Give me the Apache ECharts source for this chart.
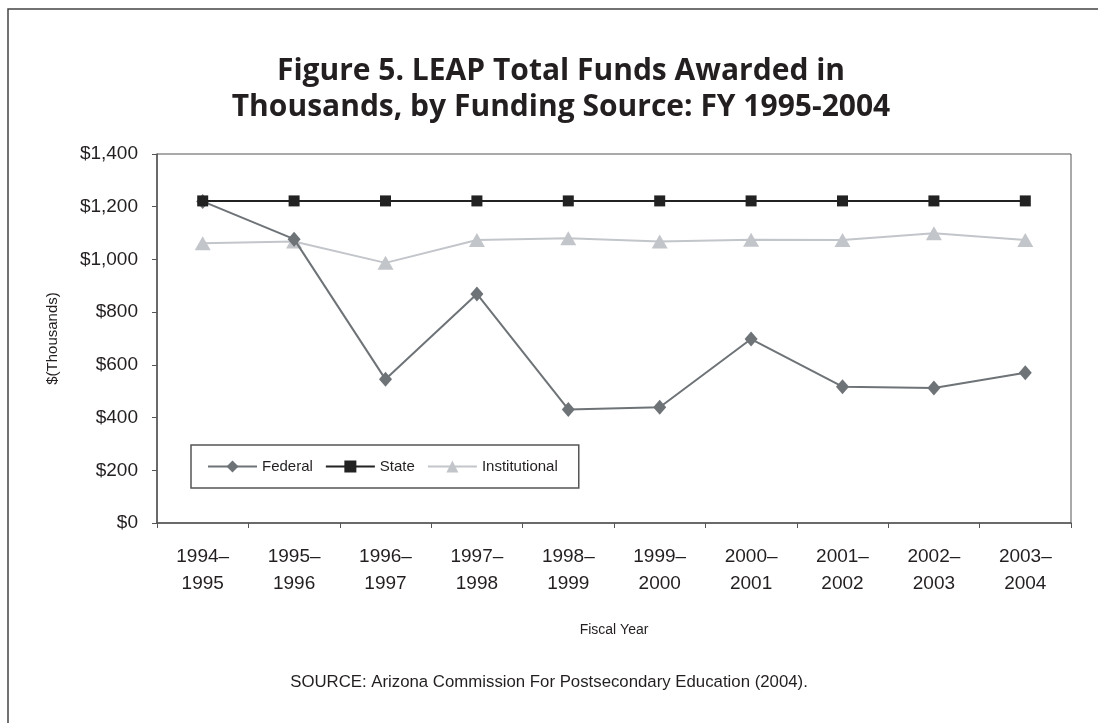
<!DOCTYPE html>
<html>
<head>
<meta charset="utf-8">
<title>LEAP Total Funds Awarded</title>
<script src="https://cdn.jsdelivr.net/npm/echarts@6/dist/echarts.min.js"></script>
<style>
  html, body { margin: 0; padding: 0; background: #fff; }
  #chart { width: 1098px; height: 723px; }
</style>
</head>
<body>
<div id="chart"></div>
<script>
// fiscal years on the x axis
const years = ['1994–\n1995', '1995–\n1996', '1996–\n1997', '1997–\n1998', '1998–\n1999',
  '1999–\n2000', '2000–\n2001', '2001–\n2002', '2002–\n2003', '2003–\n2004'];
// values in thousands of dollars
const federal = [1220, 1077, 545, 869, 431, 439, 698, 517, 512, 570];
const state = [1222, 1222, 1222, 1222, 1222, 1222, 1222, 1222, 1222, 1222];
const institutional = [1061, 1068, 987, 1074, 1080, 1068, 1075, 1074, 1099, 1074];

const sans = "'Liberation Sans', Arial, sans-serif";
const ink = '#231f20';
const axisGray = '#555';

const chart = echarts.init(document.getElementById('chart'));
chart.setOption({
  backgroundColor: '#fff',
  animation: false,
  title: {
    text: 'Figure 5. LEAP Total Funds Awarded in\nThousands, by Funding Source: FY 1995-2004',
    left: 556,
    top: 48,
    textAlign: 'center',
    textStyle: {
      fontFamily: "'Open Sans', sans-serif",
      fontWeight: 'bold',
      fontSize: 30,
      lineHeight: 36,
      color: ink
    }
  },
  graphic: [
    {
      // outer frame (only top and left edges fall inside the page)
      type: 'rect',
      shape: { x: 8, y: 9, width: 1300, height: 900 },
      style: { fill: 'none', stroke: '#444', lineWidth: 1.5 },
      silent: true
    },
    {
      type: 'text',
      x: 549,
      y: 682,
      style: {
        text: 'SOURCE: Arizona Commission For Postsecondary Education (2004).',
        font: '16.8px ' + sans,
        fill: ink,
        textAlign: 'center',
        textVerticalAlign: 'middle'
      }
    }
  ],
  legend: {
    left: 191,
    top: 445,
    orient: 'horizontal',
    padding: [14, 21, 14, 16],
    itemWidth: 49,
    itemHeight: 15,
    itemGap: 12,
    borderColor: axisGray,
    borderWidth: 1.5,
    borderRadius: 0,
    textStyle: { fontFamily: sans, fontSize: 15, color: ink },
    data: ['Federal', 'State', 'Institutional']
  },
  grid: {
    left: 157,
    right: 27,
    top: 154,
    bottom: 200,
    show: true,
    borderColor: axisGray,
    borderWidth: 1
  },
  xAxis: {
    type: 'category',
    data: years,
    boundaryGap: true,
    name: 'Fiscal Year',
    nameLocation: 'middle',
    nameGap: 100,
    nameTextStyle: { fontFamily: sans, fontSize: 14, color: ink },
    axisLine: { lineStyle: { color: axisGray, width: 1.5 } },
    axisTick: { show: true, length: 5, lineStyle: { color: axisGray } },
    axisLabel: {
      fontFamily: sans,
      fontSize: 19,
      lineHeight: 27,
      color: ink,
      margin: 20,
      interval: 0
    }
  },
  yAxis: {
    type: 'value',
    min: 0,
    max: 1400,
    interval: 200,
    name: '$(Thousands)',
    nameLocation: 'middle',
    nameGap: 97,
    nameTextStyle: { fontFamily: sans, fontSize: 15, color: ink },
    axisLine: { show: true, lineStyle: { color: axisGray, width: 1.5 } },
    axisTick: { show: true, length: 5, lineStyle: { color: axisGray } },
    splitLine: { show: false },
    axisLabel: {
      fontFamily: sans,
      fontSize: 19,
      color: ink,
      margin: 19,
      formatter: v => '$' + v.toLocaleString('en-US')
    }
  },
  series: [
    {
      name: 'Federal',
      type: 'line',
      data: federal,
      z: 3,
      symbol: 'diamond',
      symbolSize: [13, 15],
      color: '#6e7377',
      lineStyle: { width: 2, color: '#6e7377' },
      itemStyle: { color: '#6e7377' }
    },
    {
      name: 'State',
      type: 'line',
      data: state,
      z: 4,
      symbol: 'rect',
      symbolSize: 11,
      color: '#222',
      lineStyle: { width: 2, color: '#222' },
      itemStyle: { color: '#222' }
    },
    {
      name: 'Institutional',
      type: 'line',
      data: institutional,
      z: 2,
      symbol: 'triangle',
      symbolSize: [16, 14],
      color: '#c2c5ca',
      lineStyle: { width: 2, color: '#c2c5ca' },
      itemStyle: { color: '#c2c5ca' }
    }
  ]
});
</script>
</body>
</html>
